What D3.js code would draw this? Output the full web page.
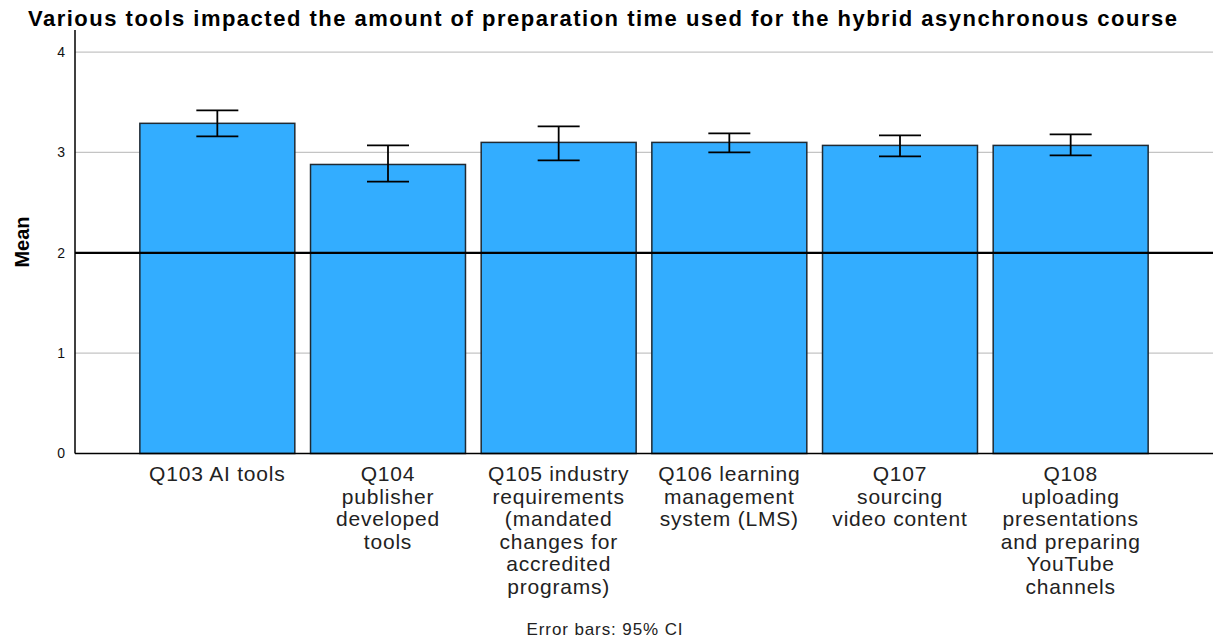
<!DOCTYPE html>
<html>
<head>
<meta charset="utf-8">
<script src="https://cdn.jsdelivr.net/npm/d3@7"></script>
<style>
  body { margin: 0; background: #fff; }
  text { font-family: "Liberation Sans", Arial, sans-serif; }
</style>
</head>
<body>
<svg id="chart" width="1217" height="640"></svg>
<script>
// Data
var categories = [
  ["Q103 AI tools"],
  ["Q104", "publisher", "developed", "tools"],
  ["Q105 industry", "requirements", "(mandated", "changes for", "accredited", "programs)"],
  ["Q106 learning", "management", "system (LMS)"],
  ["Q107", "sourcing", "video content"],
  ["Q108", "uploading", "presentations", "and preparing", "YouTube", "channels"]
];
var means = [3.29, 2.88, 3.10, 3.10, 3.07, 3.07];
var ciLow = [3.16, 2.71, 2.92, 3.00, 2.96, 2.97];
var ciHigh = [3.42, 3.07, 3.26, 3.19, 3.17, 3.18];
var yTicks = [0, 1, 2, 3, 4];
var refValue = 2;

function drawChart() {
  var svg = d3.select("#chart");

  // Sizing
  var left = 75,
    right = 1213,
    plotTop = 30,
    plotBottom = 453.5;

  var x = d3
    .scaleBand()
    .domain(d3.range(categories.length))
    .range([left, right])
    .paddingInner(0.092)
    .paddingOuter(0.38);

  var y = d3.scaleLinear().domain([0, 4.22]).range([plotBottom, plotTop]);
  var cx = (i) => x(i) + x.bandwidth() / 2;

  // Gridlines
  svg
    .append("g")
    .selectAll("line")
    .data(yTicks.filter((d) => d > 0))
    .enter()
    .append("line")
    .attr("x1", left)
    .attr("x2", right)
    .attr("y1", (d) => y(d))
    .attr("y2", (d) => y(d))
    .attr("stroke", "#c4c4c4")
    .attr("stroke-width", 1.3);

  // Bars
  svg
    .append("g")
    .selectAll("rect")
    .data(means)
    .enter()
    .append("rect")
    .attr("x", (d, i) => x(i))
    .attr("y", (d) => y(d))
    .attr("width", x.bandwidth())
    .attr("height", (d) => y(0) - y(d))
    .attr("fill", "#33adff")
    .attr("stroke", "#1f2a33")
    .attr("stroke-width", 1.5);

  // Reference line
  svg
    .append("line")
    .attr("x1", left)
    .attr("x2", right)
    .attr("y1", y(refValue))
    .attr("y2", y(refValue))
    .attr("stroke", "#000")
    .attr("stroke-width", 2.2);

  // Error bars
  var capHalf = 21;
  var err = svg
    .append("g")
    .selectAll("g")
    .data(means)
    .enter()
    .append("g")
    .attr("stroke", "#000")
    .attr("stroke-width", 1.8);

  err
    .append("line")
    .attr("x1", (d, i) => cx(i))
    .attr("x2", (d, i) => cx(i))
    .attr("y1", (d, i) => y(ciLow[i]))
    .attr("y2", (d, i) => y(ciHigh[i]));

  err
    .append("line")
    .attr("x1", (d, i) => cx(i) - capHalf)
    .attr("x2", (d, i) => cx(i) + capHalf)
    .attr("y1", (d, i) => y(ciHigh[i]))
    .attr("y2", (d, i) => y(ciHigh[i]));

  err
    .append("line")
    .attr("x1", (d, i) => cx(i) - capHalf)
    .attr("x2", (d, i) => cx(i) + capHalf)
    .attr("y1", (d, i) => y(ciLow[i]))
    .attr("y2", (d, i) => y(ciLow[i]));

  // Axis lines
  svg
    .append("line")
    .attr("x1", left)
    .attr("x2", left)
    .attr("y1", plotTop)
    .attr("y2", plotBottom)
    .attr("stroke", "#000")
    .attr("stroke-width", 1.5);

  svg
    .append("line")
    .attr("x1", left)
    .attr("x2", right)
    .attr("y1", plotBottom)
    .attr("y2", plotBottom)
    .attr("stroke", "#000")
    .attr("stroke-width", 1.5);

  // Y tick labels
  var yAxis = svg
    .append("g")
    .attr("transform", "translate(" + left + ",0)")
    .call(
      d3
        .axisLeft(y)
        .tickValues(yTicks)
        .tickSize(0)
        .tickPadding(10)
        .tickFormat(d3.format("d"))
    );
  yAxis.select(".domain").remove();
  yAxis
    .selectAll("text")
    .attr("font-family", "Liberation Sans, Arial, sans-serif")
    .attr("font-size", 14)
    .attr("fill", "#111");

  // X labels
  var labels = svg
    .append("g")
    .selectAll("text")
    .data(categories)
    .enter()
    .append("text")
    .attr("x", (d, i) => cx(i))
    .attr("y", 481)
    .attr("text-anchor", "middle")
    .attr("font-size", 21)
    .attr("letter-spacing", 0.8)
    .attr("fill", "#222");

  labels
    .selectAll("tspan")
    .data((d) => d)
    .enter()
    .append("tspan")
    .attr("x", function () {
      return this.parentNode.getAttribute("x");
    })
    .attr("dy", (d, j) => (j === 0 ? 0 : 22.6))
    .text((d) => d);

  // Y title
  svg
    .append("text")
    .attr("transform", "translate(29,242) rotate(-90)")
    .attr("text-anchor", "middle")
    .attr("font-size", 20)
    .attr("font-weight", "bold")
    .attr("fill", "#000")
    .text("Mean");

  // Title
  svg
    .append("text")
    .attr("x", 28)
    .attr("y", 26)
    .attr("font-size", 22)
    .attr("font-weight", "bold")
    .attr("textLength", 1149)
    .attr("lengthAdjust", "spacing")
    .attr("fill", "#000")
    .text(
      "Various tools impacted the amount of preparation time used for the hybrid asynchronous course"
    );

  // Footnote
  svg
    .append("text")
    .attr("x", 605)
    .attr("y", 635)
    .attr("text-anchor", "middle")
    .attr("font-size", 17)
    .attr("letter-spacing", 0.9)
    .attr("fill", "#222")
    .text("Error bars: 95% CI");
}

drawChart();
</script>
</body>
</html>
